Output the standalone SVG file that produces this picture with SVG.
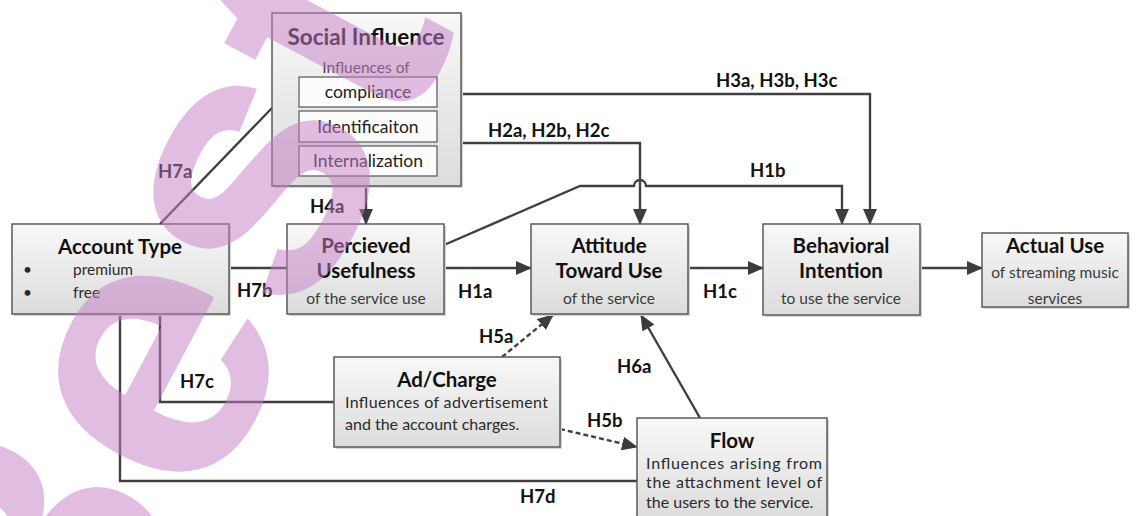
<svg xmlns="http://www.w3.org/2000/svg" width="1138" height="516" viewBox="0 0 1138 516">
<defs>
<linearGradient id="g" x1="0" y1="0" x2="0" y2="1">
<stop offset="0" stop-color="#f8f8f8"/>
<stop offset="1" stop-color="#dcdcdc"/>
</linearGradient>
<marker id="ah" markerUnits="userSpaceOnUse" markerWidth="16" markerHeight="14" refX="15" refY="7" orient="auto">
<path d="M0,0 L16,7 L0,14 z" fill="#3c3c3c"/>
</marker>
<style>
.box{fill:url(#g);stroke:#5a5a5a;stroke-width:1.5}
.sh{fill:#d4d4d4}
.inner{fill:#fcfcfc;stroke:#555;stroke-width:1.2}
.t{font-family:Lato,"Open Sans",sans-serif;font-weight:bold;font-size:20.5px;fill:#111;text-anchor:middle}
.s{font-family:Lato,"Open Sans",sans-serif;font-size:15.5px;fill:#3a3a3a;text-anchor:middle}
.b{font-family:Lato,"Open Sans",sans-serif;font-size:16px;fill:#2a2a2a}
.ib{font-family:Lato,"Open Sans",sans-serif;font-size:17.5px;fill:#222;text-anchor:middle}
.l{font-family:Lato,"Open Sans",sans-serif;font-weight:bold;font-size:18.5px;fill:#111}
.c{stroke:#404040;stroke-width:2.4;fill:none}
.d{stroke-dasharray:5 3}
.a{marker-end:url(#ah)}
</style>
</defs>
<rect width="1138" height="516" fill="#ffffff"/>

<g id="connectors">
<path class="c" d="M160,224 L272,108"/>
<path class="c a" d="M461,94 H870 V224"/>
<path class="c a" d="M461,143 H640 V224"/>
<path class="c a" d="M444,245 L580,186 H634 A6,6 0 0 1 646,186 H842 V224"/>
<path class="c a" d="M366,186 V224"/>
<path class="c" d="M229,268 H287"/>
<path class="c a" d="M444,268 H531"/>
<path class="c a" d="M688,268 H763"/>
<path class="c a" d="M920,268 H982"/>
<path class="c d a" d="M502,357 L553,315"/>
<path class="c a" d="M700,418 L641,315"/>
<path class="c d a" d="M560,429 L637,447"/>
<path class="c" d="M160,314 V402 H334"/>
<path class="c" d="M120,314 V481 H637"/>
</g>

<g id="labels">
<text class="l" x="158" y="178">H7a</text>
<text class="l" x="716" y="87">H3a, H3b, H3c</text>
<text class="l" x="488" y="137">H2a, H2b, H2c</text>
<text class="l" x="750" y="177">H1b</text>
<text class="l" x="310" y="213">H4a</text>
<text class="l" x="237" y="297">H7b</text>
<text class="l" x="458" y="298">H1a</text>
<text class="l" x="703" y="298">H1c</text>
<text class="l" x="479" y="343">H5a</text>
<text class="l" x="617" y="373">H6a</text>
<text class="l" x="587" y="427">H5b</text>
<text class="l" x="180" y="388">H7c</text>
<text class="l" x="520" y="503">H7d</text>
</g>

<g id="social-influence">
<rect class="sh" x="274" y="15" width="189" height="173"/>
<rect class="box" x="272" y="13" width="189" height="173"/>
<text class="t" x="366" y="45" style="font-size:22.5px">Social Influence</text>
<text class="s" x="366" y="73">Influences of</text>
<rect class="inner" x="299" y="77" width="138" height="30"/>
<text class="ib" x="368" y="98">compliance</text>
<rect class="inner" x="299" y="111" width="138" height="31"/>
<text class="ib" x="368" y="133">Identificaiton</text>
<rect class="inner" x="299" y="146" width="138" height="30"/>
<text class="ib" x="368" y="167">Internalization</text>
</g>

<g id="account-type">
<rect class="sh" x="14" y="226" width="217" height="90"/>
<rect class="box" x="12" y="224" width="217" height="90"/>
<text class="t" x="120" y="254">Account Type</text>
<text class="b" x="23" y="275" style="font-size:15.5px">•</text>
<text class="b" x="73" y="275" style="font-size:15.5px">premium</text>
<text class="b" x="23" y="298" style="font-size:15.5px">•</text>
<text class="b" x="73" y="298" style="font-size:15.5px">free</text>
</g>

<g id="perceived-usefulness">
<rect class="sh" x="289" y="226" width="157" height="90"/>
<rect class="box" x="287" y="224" width="157" height="90"/>
<text class="t" x="366" y="253">Percieved</text>
<text class="t" x="366" y="278">Usefulness</text>
<text class="s" x="366" y="304">of the service use</text>
</g>

<g id="attitude">
<rect class="sh" x="533" y="226" width="157" height="90"/>
<rect class="box" x="531" y="224" width="157" height="90"/>
<text class="t" x="609" y="253">Attitude</text>
<text class="t" x="609" y="278">Toward Use</text>
<text class="s" x="609" y="304">of the service</text>
</g>

<g id="behavioral-intention">
<rect class="sh" x="765" y="226" width="157" height="91"/>
<rect class="box" x="763" y="224" width="157" height="91"/>
<text class="t" x="841" y="253">Behavioral</text>
<text class="t" x="841" y="278">Intention</text>
<text class="s" x="841" y="304">to use the service</text>
</g>

<g id="actual-use">
<rect class="sh" x="984" y="235" width="146" height="74"/>
<rect class="box" x="982" y="233" width="146" height="74"/>
<text class="t" x="1055" y="253">Actual Use</text>
<text class="s" x="1055" y="278">of streaming music</text>
<text class="s" x="1055" y="304">services</text>
</g>

<g id="ad-charge">
<rect class="sh" x="336" y="359" width="226" height="90"/>
<rect class="box" x="334" y="357" width="226" height="90"/>
<text class="t" x="447" y="387">Ad/Charge</text>
<text class="b" x="345" y="408" textLength="203" lengthAdjust="spacing">Influences of advertisement</text>
<text class="b" x="345" y="430">and the account charges.</text>
</g>

<g id="flow">
<rect class="sh" x="639" y="420" width="190" height="100"/>
<rect class="box" x="637" y="418" width="190" height="100"/>
<text class="t" x="732" y="448">Flow</text>
<text class="b" x="646" y="469" textLength="176" lengthAdjust="spacing">Influences arising from</text>
<text class="b" x="646" y="488" textLength="176" lengthAdjust="spacing">the attachment level of</text>
<text class="b" x="646" y="508">the users to the service.</text>
</g>

<g id="watermark" opacity="0.5">
<text transform="translate(72,757) rotate(-62)" font-family="'Liberation Sans',sans-serif" font-weight="bold" font-size="380" fill="#c77dc7">Best</text>
</g>
</svg>
